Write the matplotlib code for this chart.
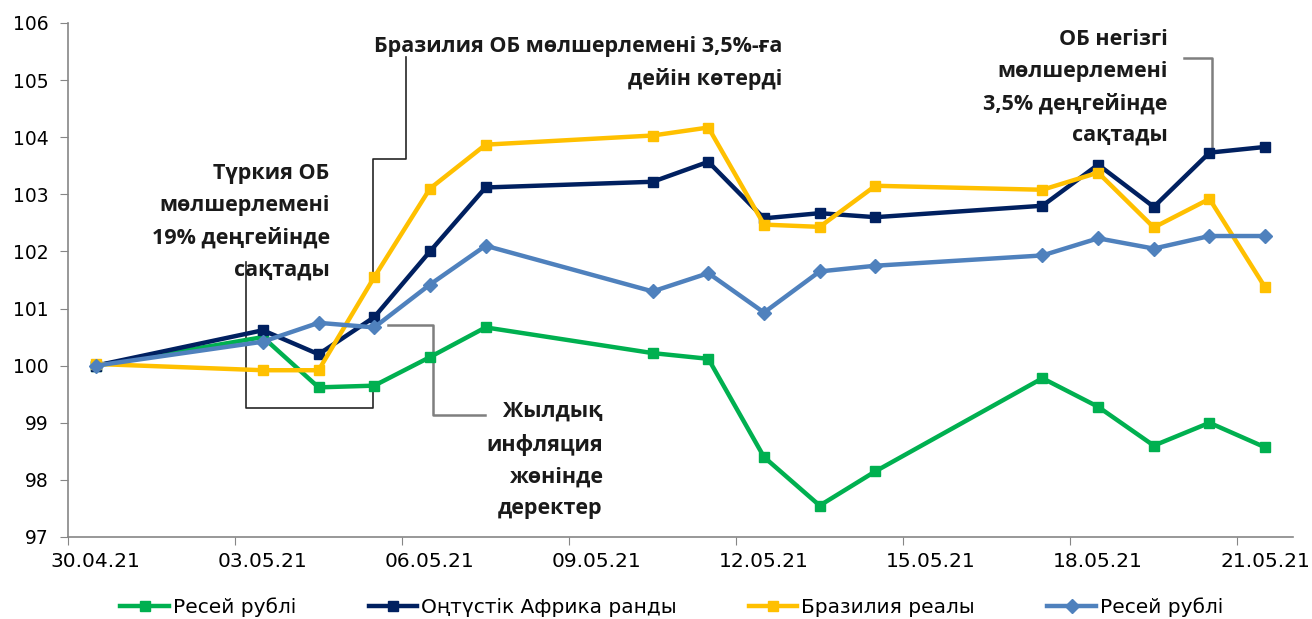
import matplotlib
matplotlib.use('Agg')
import matplotlib.pyplot as plt
import numpy as np
import pandas as pd

dates = ['30.04.21', '03.05.21', '04.05.21', '05.05.21', '06.05.21', '07.05.21',
         '10.05.21', '11.05.21', '12.05.21', '13.05.21', '14.05.21', '17.05.21',
         '18.05.21', '19.05.21', '20.05.21', '21.05.21']
tick_labels = ['30.04.21', '03.05.21', '06.05.21', '09.05.21', '12.05.21',
               '15.05.21', '18.05.21', '21.05.21']

green_vals = [100.0, 100.5, 99.62, 99.65, 100.15, 100.67, 100.22, 100.12,
              98.4, 97.55, 98.15, 99.78, 99.28, 98.6, 99.0, 98.57]
navy_vals = [100.0, 100.62, 100.2, 100.85, 102.0, 103.12, 103.22, 103.57,
             102.58, 102.67, 102.6, 102.8, 103.52, 102.78, 103.73, 103.83]
yellow_vals = [100.03, 99.92, 99.92, 101.55, 103.1, 103.87, 104.03, 104.17,
               102.47, 102.43, 103.15, 103.08, 103.38, 102.42, 102.92, 101.37]
blue_vals = [100.0, 100.42, 100.75, 100.67, 101.42, 102.1, 101.3, 101.62,
             100.93, 101.65, 101.75, 101.93, 102.23, 102.05, 102.27, 102.27]

names = ['Ресей рублі', 'Оңтүстік Африка ранды', 'Бразилия реалы', 'Ресей рублі']

dt = pd.to_datetime(dates, format='%d.%m.%y')
days = np.array((dt - dt[0]).days)

fig = plt.figure(figsize=(13.12, 6.19), dpi=100)
ax = fig.add_axes([68 / 1312, 1 - 537 / 619, 1225 / 1312, 514 / 619])

ax.plot(days, green_vals, color='#00B050', lw=3.2, marker='s', ms=7, label=names[0], zorder=3)
ax.plot(days, navy_vals, color='#002060', lw=3.2, marker='s', ms=7, label=names[1], zorder=4)
ax.plot(days, yellow_vals, color='#FFC000', lw=3.2, marker='s', ms=7, label=names[2], zorder=5)
ax.plot(days, blue_vals, color='#4F81BD', lw=3.2, marker='D', ms=7, label=names[3], zorder=6)

ax.set_xlim(-0.5, 21.5)
ax.set_ylim(97, 106)
ax.set_yticks(np.arange(97, 107, 1))
ax.set_xticks(np.arange(-0.5, 21, 3))
ax.set_xticklabels([])
ax.set_xticks(np.arange(0, 22, 3), minor=True)
ax.set_xticklabels(tick_labels, minor=True)

for s in ['top', 'right']:
    ax.spines[s].set_visible(False)
for s in ['left', 'bottom']:
    ax.spines[s].set_color('#868686')
    ax.spines[s].set_linewidth(1.2)
ax.tick_params(axis='y', length=6, color='#868686', labelsize=13.5, pad=8)
ax.tick_params(axis='x', which='major', length=6, color='#868686')
ax.tick_params(axis='x', which='minor', length=0, labelsize=14.5, pad=11)

# leader lines
ax.plot([2.69, 2.69, 4.97, 4.97], [101.82, 99.26, 99.26, 99.6], color='#262626', lw=1.2, zorder=2)
ax.plot([5.24, 6.05, 6.05, 6.98], [100.72, 100.72, 99.14, 99.14], color='#7f7f7f', lw=1.8, zorder=2)
ax.plot([5.57, 5.57, 4.97, 4.97], [105.41, 103.61, 103.61, 101.51], color='#262626', lw=1.2, zorder=2)
ax.plot([19.55, 20.04, 20.04], [105.39, 105.39, 103.78], color='#7f7f7f', lw=1.8, zorder=2,
        clip_on=False)

afont = dict(family='Open Sans', fontweight='bold', fontsize=15.5, color='#1a1a1a',
             ha='right', va='top', multialignment='right', linespacing=1.68)
ax.text(4.2, 103.55, 'Түркия ОБ\nмөлшерлемені\n19% деңгейінде\nсақтады', **afont)
ax.text(12.33, 105.78, 'Бразилия ОБ мөлшерлемені 3,5%-ға\nдейін көтерді', **afont)
ax.text(19.25, 105.9, 'ОБ негізгі\nмөлшерлемені\n3,5% деңгейінде\nсақтады', **afont)
ax.text(9.1, 99.38, 'Жылдық\nинфляция\nжөнінде\nдеректер', **afont)

fig.legend(loc='center', bbox_to_anchor=(0.512, 1 - 607 / 619), ncol=4, frameon=False,
           fontsize=14.5, handlelength=2.4, handletextpad=0.2, columnspacing=3.6)

fig.savefig('out.png', dpi=100)
